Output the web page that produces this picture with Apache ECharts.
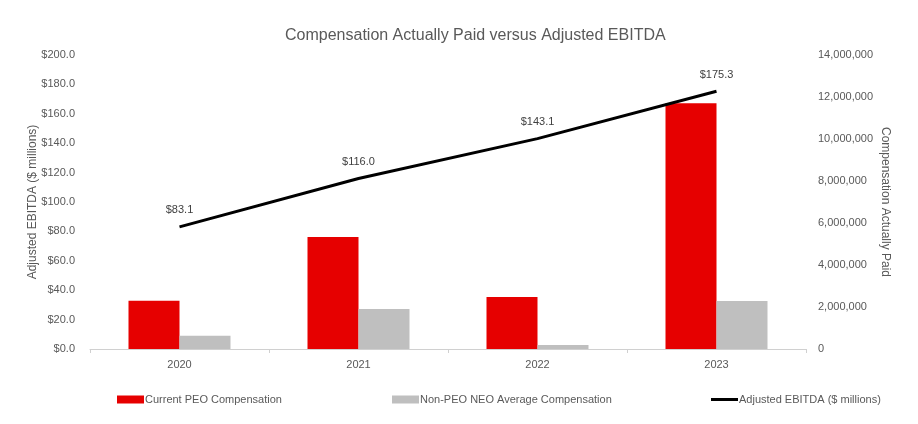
<!DOCTYPE html>
<html>
<head>
<meta charset="utf-8">
<script src="https://cdn.jsdelivr.net/npm/echarts@6/dist/echarts.min.js"></script>
<style>html,body{margin:0;padding:0;background:#fff;}#c{width:918px;height:424px;}</style>
</head>
<body>
<div id="c"></div>
<script>
const years = ['2020', '2021', '2022', '2023'];
const peoComp = [2300000, 5330000, 2480000, 11700000];
const neoComp = [630000, 1900000, 190000, 2290000];
const ebitda = [83.1, 116.0, 143.1, 175.3];

const chart = echarts.init(document.getElementById('c'));
const font = 'Liberation Sans, Arial, sans-serif';
const txt = '#595959';
const legendBase = {
  top: 389, itemWidth: 27, itemHeight: 8, itemGap: 0,
  textStyle: {color: txt, fontSize: 11, fontFamily: font, padding: [0,0,0,-4]}
};
chart.setOption({
  animation: false,
  textStyle: {fontFamily: font},
  title: {
    text: 'Compensation Actually Paid versus Adjusted EBITDA',
    left: 280, top: 23,
    textStyle: {color: txt, fontSize: 16, fontWeight: 'normal', fontFamily: font}
  },
  legend: [
    Object.assign({}, legendBase, {left: 112, data: [{name: 'Current PEO Compensation', icon: 'rect'}]}),
    Object.assign({}, legendBase, {left: 387, data: [{name: 'Non-PEO NEO Average Compensation', icon: 'rect'}]}),
    Object.assign({}, legendBase, {left: 706, itemHeight: 3, data: [{name: 'Adjusted EBITDA ($ millions)', icon: 'rect'}]})
  ],
  grid: {left: 90, right: 112, top: 55, bottom: 75},
  xAxis: {
    type: 'category', data: years,
    axisLine: {lineStyle: {color: '#d0d0d0'}},
    axisTick: {show: true, length: 4, lineStyle: {color: '#d0d0d0'}},
    axisLabel: {color: txt, fontSize: 11, margin: 10}
  },
  yAxis: [
    {
      type: 'value', min: 0, max: 200, interval: 20, position: 'left',
      name: 'Adjusted EBITDA ($ millions)', nameLocation: 'middle', nameRotate: 90, nameGap: 51,
      nameMoveOverlap: false,
      nameTextStyle: {color: txt, fontSize: 12},
      splitLine: {show: false}, axisLine: {show: false}, axisTick: {show: false},
      axisLabel: {color: txt, fontSize: 11, margin: 15, formatter: v => '$' + v.toFixed(1)}
    },
    {
      type: 'value', min: 0, max: 14000000, interval: 2000000, position: 'right',
      name: 'Compensation Actually Paid', nameLocation: 'middle', nameRotate: -90, nameGap: 73,
      nameMoveOverlap: false,
      nameTextStyle: {color: txt, fontSize: 12},
      splitLine: {show: false}, axisLine: {show: false}, axisTick: {show: false},
      axisLabel: {color: txt, fontSize: 11, margin: 12, formatter: v => v.toLocaleString('en-US')}
    }
  ],
  series: [
    {name: 'Current PEO Compensation', type: 'bar', yAxisIndex: 1, data: peoComp,
     barWidth: 51, barGap: '0%', itemStyle: {color: '#e60000'}},
    {name: 'Non-PEO NEO Average Compensation', type: 'bar', yAxisIndex: 1, data: neoComp,
     barWidth: 51, barGap: '0%', itemStyle: {color: '#bfbfbf'}},
    {name: 'Adjusted EBITDA ($ millions)', type: 'line', yAxisIndex: 0, data: ebitda,
     symbol: 'circle', symbolSize: 0, showSymbol: true,
     lineStyle: {color: '#000', width: 3}, itemStyle: {color: '#000'},
     label: {show: true, position: 'top', distance: 11, color: '#404040', fontSize: 11,
             formatter: p => '$' + p.value.toFixed(1)}}
  ]
});
</script>
</body>
</html>
